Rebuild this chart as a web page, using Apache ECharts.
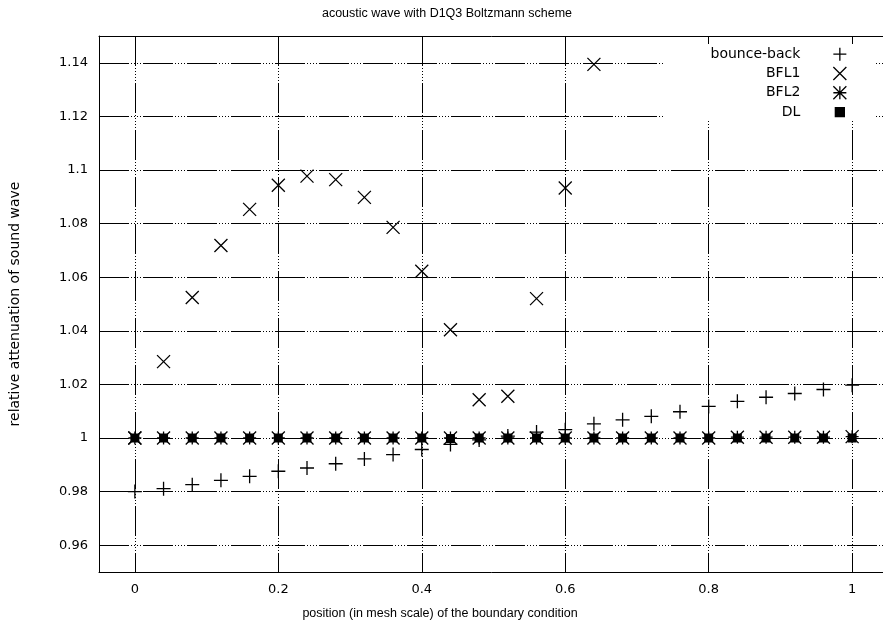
<!DOCTYPE html>
<html>
<head>
<meta charset="utf-8">
<script src="https://cdn.jsdelivr.net/npm/echarts@6/dist/echarts.min.js"></script>
<style>
html,body{margin:0;padding:0;background:#fff;}
#chart{width:883px;height:631px;}
</style>
</head>
<body>
<div id="chart"></div>
<script>
// ---- data ----
const positions = [0, 0.04, 0.08, 0.12, 0.16, 0.2, 0.24, 0.28, 0.32, 0.36, 0.4, 0.44, 0.48, 0.52, 0.56, 0.6, 0.64, 0.68, 0.72, 0.76, 0.8, 0.84, 0.88, 0.92, 0.96, 1];
const bounceBack = [0.9800, 0.9811, 0.9826, 0.9842, 0.9857, 0.9876, 0.9888, 0.9904, 0.9922, 0.9938, 0.9957, 0.9976, 0.9993, 1.0007, 1.0022, 1.0031, 1.0053, 1.0068, 1.0081, 1.0098, 1.0118, 1.0137, 1.0152, 1.0166, 1.0181, 1.0197];
const bfl1 = [1.0000, 1.0285, 1.0524, 1.0718, 1.0853, 1.0943, 1.0977, 1.0964, 1.0898, 1.0786, 1.0622, 1.0404, 1.0143, 1.0156, 1.0520, 1.0933, 1.1394, null, null, null, null, null, null, null, null, null];
const bfl2 = [1.0000, 1.0000, 1.0000, 1.0000, 1.0000, 1.0000, 1.0000, 1.0000, 1.0000, 1.0000, 1.0000, 1.0000, 1.0000, 1.0000, 1.0000, 1.0000, 1.0000, 1.0000, 1.0000, 1.0000, 1.0000, 1.0003, 1.0003, 1.0003, 1.0003, 1.0005];
const dl = [1.0000, 1.0000, 1.0000, 1.0000, 1.0000, 1.0000, 1.0000, 1.0000, 1.0000, 1.0000, 1.0000, 0.9998, 1.0000, 1.0000, 1.0000, 1.0000, 1.0000, 1.0000, 1.0000, 1.0000, 1.0000, 1.0000, 1.0000, 1.0000, 1.0000, 1.0000];
const seriesNames = ['bounce-back', 'BFL1', 'BFL2', 'DL'];
const xTicks = [0, 0.2, 0.4, 0.6, 0.8, 1];
const yTicks = [0.96, 0.98, 1, 1.02, 1.04, 1.06, 1.08, 1.1, 1.12, 1.14];
const titleText = 'acoustic wave with D1Q3 Boltzmann scheme';
const xTitle = 'position (in mesh scale) of the boundary condition';
const yTitle = 'relative attenuation of sound wave';

function pairs(ys) {
  const out = [];
  positions.forEach((x, i) => { if (ys[i] != null) out.push([x, ys[i]]); });
  return out;
}

const SYM_PLUS = 'path://M0,6.5L13,6.5M6.5,0L6.5,13';
const SYM_CROSS = 'path://M0,0L13,13M13,0L0,13';
const SYM_STAR = 'path://M0,6.5L13,6.5M6.5,0L6.5,13M0,0L13,13M13,0L0,13';
const SYM_SQ_LEGEND = 'path://M0,0M13,13M2,2L11,2L11,11L2,11Z';

const FONT = 'Liberation Sans';
const hDash = [30, 2, 1, 2, 1, 2, 1, 2, 1, 2];
const vDash = [30, 2, 1, 2, 1, 2, 1, 2, 1, 2, 1, 2];

const symStyle = { color: '#000', borderColor: '#000', borderWidth: 1.3, opacity: 1 };

const chart = echarts.init(document.getElementById('chart'), null, { renderer: 'canvas' });
chart.setOption({
  animation: false,
  backgroundColor: '#fff',
  title: {
    text: titleText, left: 447, top: 7, textAlign: 'center', padding: 0,
    textStyle: { fontFamily: FONT, fontSize: 12.5, fontWeight: 'normal', color: '#000' }
  },
  grid: { left: 99, top: 36, width: 789, height: 536, show: false, containLabel: false, outerBoundsMode: 'none' },
  legend: {
    orient: 'vertical', align: 'right', right: 7, top: 44,
    itemWidth: 13, itemHeight: 13, itemGap: 5,
    padding: [3, 29, 0, 47], backgroundColor: '#fff',
    selectedMode: false,
    itemStyle: { borderWidth: 1.3, opacity: 1 },
    textStyle: { fontFamily: 'DejaVu Sans', fontSize: 14, color: '#000', lineHeight: 13, padding: [0, 28, 0, 0] },
    data: [
      { name: seriesNames[0] },
      { name: seriesNames[1] },
      { name: seriesNames[2] },
      { name: seriesNames[3], icon: SYM_SQ_LEGEND }
    ]
  },
  xAxis: [
    {
      type: 'value', min: -0.05, max: 1.05, position: 'bottom',
      axisLine: { show: true, onZero: false, lineStyle: { color: '#000', width: 1 } },
      axisTick: { show: true, inside: true, length: 8, customValues: xTicks, lineStyle: { color: '#000', width: 1 } },
      axisLabel: { show: true, customValues: xTicks, margin: 11, fontFamily: 'DejaVu Sans', fontSize: 13, color: '#000',
        formatter: v => String(Math.round(v * 10) / 10) },
      splitLine: { show: true, lineStyle: { color: '#000', width: 1, type: vDash } }
    },
    {
      type: 'value', min: -0.05, max: 1.05, position: 'top',
      axisLine: { show: true, onZero: false, lineStyle: { color: '#000', width: 1 } },
      axisTick: { show: true, inside: true, length: 8, customValues: xTicks, lineStyle: { color: '#000', width: 1 } },
      axisLabel: { show: false },
      splitLine: { show: false }
    }
  ],
  yAxis: [
    {
      type: 'value', min: 0.95, max: 1.15, position: 'left',
      name: yTitle, nameLocation: 'middle', nameGap: 77, nameRotate: 90,
      nameTextStyle: { fontFamily: 'DejaVu Sans', fontSize: 14, color: '#000' },
      axisLine: { show: true, onZero: false, lineStyle: { color: '#000', width: 1 } },
      axisTick: { show: true, inside: true, length: 8, customValues: yTicks, lineStyle: { color: '#000', width: 1 } },
      axisLabel: { show: true, customValues: yTicks, margin: 11, fontFamily: 'DejaVu Sans', fontSize: 13, color: '#000',
        formatter: v => String(Math.round(v * 100) / 100) },
      splitLine: { show: true, lineStyle: { color: '#000', width: 1, type: hDash } }
    }
  ],
  graphic: [
    {
      type: 'text', x: 440, y: 614,
      style: { text: xTitle, fontFamily: FONT, fontSize: 12.5, fill: '#000', align: 'center', verticalAlign: 'middle' }
    }
  ],
  series: [
    { name: seriesNames[0], type: 'scatter', data: pairs(bounceBack), symbol: SYM_PLUS, symbolSize: 14, itemStyle: symStyle, silent: true },
    { name: seriesNames[1], type: 'scatter', data: pairs(bfl1), symbol: SYM_CROSS, symbolSize: 13, itemStyle: symStyle, silent: true },
    { name: seriesNames[2], type: 'scatter', data: pairs(bfl2), symbol: SYM_STAR, symbolSize: 13, itemStyle: symStyle, silent: true },
    { name: seriesNames[3], type: 'scatter', data: pairs(dl), symbol: 'rect', symbolSize: 9, itemStyle: { color: '#000', borderColor: '#000', borderWidth: 0, opacity: 1 }, silent: true }
  ]
});
</script>
</body>
</html>
